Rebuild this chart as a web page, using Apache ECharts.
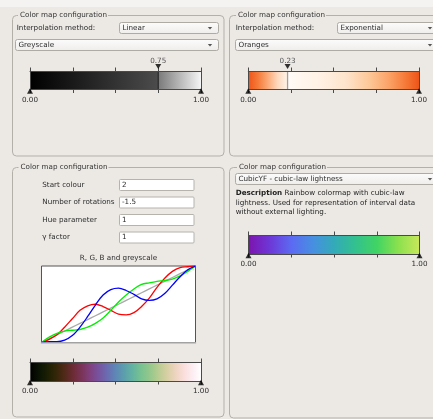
<!DOCTYPE html>
<html><head><meta charset="utf-8">
<script src="https://cdn.jsdelivr.net/npm/echarts@6/dist/echarts.min.js"></script>
<style>html,body{margin:0;padding:0;background:#ece9e5;} #c{width:433px;height:419px;}</style>
</head><body><div id="c"></div><script>
// ---------------- data ----------------
const barTicks = [0, 0.25, 0.5, 0.75, 1];
const endValues = [0, 1];
const greyControl = [0.75];
const orangeControl = [0.23];
const tValues     = [0.00,0.05,0.10,0.15,0.20,0.25,0.30,0.35,0.40,0.45,0.50,0.55,0.60,0.65,0.70,0.75,0.80,0.85,0.90,0.95,1.00];
const redValues   = [0.00,0.04,0.10,0.20,0.31,0.42,0.48,0.50,0.47,0.42,0.37,0.36,0.39,0.47,0.58,0.72,0.84,0.93,0.98,0.99,1.00];
const greenValues = [0.00,0.07,0.12,0.15,0.16,0.17,0.20,0.25,0.32,0.42,0.53,0.62,0.70,0.76,0.78,0.80,0.81,0.83,0.87,0.93,1.00];
const blueValues  = [0.00,0.01,0.01,0.03,0.09,0.20,0.34,0.49,0.62,0.69,0.71,0.68,0.63,0.57,0.55,0.57,0.64,0.75,0.86,0.95,1.00];
const greyValues  = [0.00,0.05,0.10,0.15,0.20,0.25,0.30,0.35,0.40,0.45,0.50,0.55,0.60,0.65,0.70,0.75,0.80,0.85,0.90,0.95,1.00];
const greyscaleRanges = [[0, 0.75], [0.75, 1]];
const greyscaleStops = [[[0,'#000000'],[1,'#4c4c4c']], [[0,'#7a7a7a'],[1,'#f5f5f5']]];
const orangeRanges = [[0, 0.23], [0.23, 1]];
const orangeStops = [
  [[0,'#ee5418'],[0.25,'#f57b3a'],[0.5,'#fbaa78'],[0.75,'#fed8be'],[1,'#fff3e8']],
  [[0,'#fffbf7'],[0.25,'#fff1e4'],[0.45,'#fee3ca'],[0.62,'#fdc898'],[0.78,'#fba064'],[0.9,'#f57938'],[1,'#ee5418']]
];
const cubicRanges = [[0, 1]];
const cubicStops = [[[0,'#7c14ae'],[0.12,'#6e36d6'],[0.25,'#5c6af2'],[0.38,'#4690e0'],[0.5,'#33aab8'],[0.62,'#33c090'],[0.75,'#40d464'],[0.87,'#88e04e'],[1,'#c8e85a']]];
const fieldLabels = ['Start colour', 'Number of rotations', 'Hue parameter', 'γ factor'];
const fieldValues = ['2', '-1.5', '1', '1'];

// ---------------- build ----------------
const FONT = 'DejaVu Sans';
const FS = 7.2;
const TXT = '#2c2c2c';
const grids = [], xAxes = [], yAxes = [], series = [];

function addColorbar(rect, ranges, stops, controls, dividerColor) {
  const g = grids.length;
  grids.push({left: rect[0], top: rect[1], width: rect[2], height: rect[3]});
  const line = {show: true, onZero: false, lineStyle: {color: '#4a4a4a', width: 1}};
  const tick = {show: true, inside: false, length: 3.5, lineStyle: {color: '#4a4a4a'}};
  const xb = xAxes.length;
  xAxes.push({gridIndex: g, type: 'value', min: barTicks[0], max: barTicks[barTicks.length-1], interval: barTicks[1]-barTicks[0],
    position: 'bottom', z: 5, axisLine: line, axisTick: tick, splitLine: {show: false},
    axisLabel: {show: true, margin: 7, fontSize: FS, fontFamily: FONT, color: TXT,
      formatter: v => endValues.includes(v) ? v.toFixed(2) : ''}});
  xAxes.push({gridIndex: g, type: 'value', min: barTicks[0], max: barTicks[barTicks.length-1], interval: barTicks[1]-barTicks[0],
    position: 'top', z: 5, axisLine: line, axisTick: tick, splitLine: {show: false}, axisLabel: {show: false}});
  const yl = yAxes.length;
  yAxes.push({gridIndex: g, type: 'value', min: 0, max: 1, position: 'left', z: 5, axisLine: line,
    axisTick: {show: false}, axisLabel: {show: false}, splitLine: {show: false}});
  yAxes.push({gridIndex: g, type: 'value', min: 0, max: 1, position: 'right', z: 5, axisLine: line,
    axisTick: {show: false}, axisLabel: {show: false}, splitLine: {show: false}});
  series.push({type: 'custom', xAxisIndex: xb, yAxisIndex: yl, z: 1, silent: true, animation: false,
    data: ranges.map((r, i) => [r[0], r[1], i]),
    renderItem: (params, api) => {
      const s = stops[api.value(2)];
      const p0 = api.coord([api.value(0), 1]);
      const p1 = api.coord([api.value(1), 0]);
      return {type: 'rect', shape: {x: p0[0], y: p0[1], width: p1[0]-p0[0], height: p1[1]-p0[1]},
        style: {fill: new echarts.graphic.LinearGradient(0, 0, 1, 0, s.map(([o, c]) => ({offset: o, color: c})))}};
    }});
  if (controls.length) {
    series.push({type: 'custom', xAxisIndex: xb, yAxisIndex: yl, z: 3, silent: true, animation: false,
      data: controls.map(v => [v, 0]),
      renderItem: (params, api) => {
        const a = api.coord([api.value(0), 0]), b = api.coord([api.value(0), 1]);
        return {type: 'line', shape: {x1: a[0], y1: a[1], x2: b[0], y2: b[1]}, style: {stroke: dividerColor, lineWidth: 1.3}};
      }});
    series.push({type: 'scatter', xAxisIndex: xb, yAxisIndex: yl, z: 10, silent: true, animation: false,
      data: controls.map(v => [v, 1]), symbol: 'triangle', symbolSize: [6, 5], symbolRotate: 180,
      symbolOffset: [0, -4.4], itemStyle: {color: '#000'}});
    series.push({type: 'scatter', xAxisIndex: xb, yAxisIndex: yl, z: 10, silent: true, animation: false,
      data: controls.map(v => [v, 1]), symbol: 'circle', symbolSize: 1, itemStyle: {color: 'rgba(0,0,0,0)'},
      label: {show: true, position: 'top', distance: 6, fontSize: FS, fontFamily: FONT, color: TXT,
        formatter: p => p.value[0].toFixed(2)}});
  }
  series.push({type: 'scatter', xAxisIndex: xb, yAxisIndex: yl, z: 10, silent: true, animation: false,
    data: endValues.map(v => [v, 0]), symbol: 'triangle', symbolSize: [6, 5.5],
    symbolOffset: [0, 1.5], itemStyle: {color: '#000'}});
}

addColorbar([30, 71, 171, 18.5], greyscaleRanges, greyscaleStops, greyControl, '#2a2a2a');
addColorbar([248.3, 71, 170.7, 18.5], orangeRanges, orangeStops, orangeControl, '#a0a0a0');

// R,G,B plot
{
  const g = grids.length;
  grids.push({left: 41.5, top: 266, width: 154, height: 76.5, show: true, backgroundColor: '#ffffff', borderColor: '#555555', borderWidth: 1});
  const xi = xAxes.length, yi = yAxes.length;
  xAxes.push({gridIndex: g, type: 'value', min: 0, max: 1, z: 6,
    axisLine: {show: true, onZero: false, lineStyle: {color: '#bcbcbc', width: 1.6}},
    axisTick: {show: false}, axisLabel: {show: false}, splitLine: {show: false}});
  yAxes.push({gridIndex: g, type: 'value', min: 0, max: 1, show: false});
  const mk = (vals, color) => ({type: 'line', xAxisIndex: xi, yAxisIndex: yi, silent: true, animation: false,
    smooth: 0.35, showSymbol: false, clip: true, data: tValues.map((t, i) => [t, vals[i]]),
    lineStyle: {color, width: 1.3}});
  series.push(mk(greyValues, '#a9a9a9'), mk(redValues, '#ff0000'), mk(greenValues, '#00ee00'), mk(blueValues, '#0000ff'));
}

const helixStops = [tValues.map((t, i) => [t,
  'rgb(' + Math.round(redValues[i]*255) + ',' + Math.round(greenValues[i]*255) + ',' + Math.round(blueValues[i]*255) + ')'])];
addColorbar([30, 362, 171, 19], [[0, 1]], helixStops, [], '#000');
addColorbar([248.5, 235, 171, 19], cubicRanges, cubicStops, [], '#000');

// ---------------- widgets ----------------
const BG = '#ece9e5';
const FRAME = '#b3afa9';
const gfx = [];
gfx.push({type: 'rect', shape: {x: 0, y: 0, width: 433, height: 7}, style: {fill: '#f4f3f1'}, z: -10});
function frame(x, y, w, h, tx) {
  gfx.push({type: 'rect', shape: {x, y, width: w, height: h, r: 4}, style: {fill: 'none', stroke: FRAME, lineWidth: 1}, z: -5});
  gfx.push({type: 'rect', shape: {x: tx - 2, y: y - 5, width: 90, height: 10}, style: {fill: BG}, z: -4});
  gfx.push({type: 'text', x: tx, y: y - 0.3, z: -3, style: {text: 'Color map configuration', fontSize: FS, fontFamily: FONT, fill: '#333', align: 'left', verticalAlign: 'middle'}});
}
frame(12.5, 15.5, 211.5, 140.5, 20);
frame(229.5, 15.5, 215, 140.5, 238);
frame(12.5, 167.5, 211.5, 249.5, 20.5);
frame(229.5, 167.5, 215, 250.5, 239);

function label(text, x, y, extra) {
  gfx.push({type: 'text', x, y, style: Object.assign({text, fontSize: FS, fontFamily: FONT, fill: TXT, align: 'left', verticalAlign: 'middle'}, extra || {})});
}
function combo(x, y, w, text) {
  gfx.push({type: 'rect', shape: {x, y, width: w, height: 11, r: 2},
    style: {fill: new echarts.graphic.LinearGradient(0, 0, 0, 1, [{offset: 0, color: '#fcfcfc'}, {offset: 1, color: '#efedeb'}]), stroke: '#aeaaa4', lineWidth: 1}});
  label(text, x + 3, y + 5.6);
  const ax = x + w - 8.5, ay = y + 5.5;
  gfx.push({type: 'polygon', shape: {points: [[ax - 2.2, ay - 1.1], [ax + 2.2, ay - 1.1], [ax, ay + 1.4]]}, style: {fill: '#555'}});
}
function field(x, y, w, text) {
  gfx.push({type: 'rect', shape: {x, y, width: w, height: 11, r: 1}, style: {fill: '#ffffff', stroke: '#b6b2ac', lineWidth: 1}});
  label(text, x + 2.5, y + 5.6);
}
label('Interpolation method:', 16.7, 27.8);
combo(119.5, 22.5, 99, 'Linear');
combo(15.5, 39.5, 203, 'Greyscale');
label('Interpolation method:', 235.7, 27.8);
combo(337.5, 22.5, 101, 'Exponential');
combo(235.5, 39.5, 203, 'Oranges');
combo(235.5, 173.5, 203, 'CubicYF - cubic-law lightness');

const fieldY = [179.5, 197, 214.5, 232];
fieldLabels.forEach((t, i) => { label(t, 42.3, fieldY[i] + 5.4); field(119.5, fieldY[i], 74.5, fieldValues[i]); });
label('R, G, B and greyscale', 118.5, 258.3, {align: 'center'});

label('{b|Description} Rainbow colormap with cubic-law', 235.7, 193.3,
  {fill: '#1e1e1e', rich: {b: {fontWeight: 'bold', fontSize: FS, fontFamily: FONT, fill: '#1e1e1e'}}});
label('lightness. Used for representation of interval data', 235.7, 203, {fill: '#1e1e1e'});
label('without external lighting.', 235.7, 212.6, {fill: '#1e1e1e'});

const chart = echarts.init(document.getElementById('c'), null, {renderer: 'canvas'});
chart.setOption({
  animation: false,
  backgroundColor: BG,
  textStyle: {fontFamily: FONT},
  grid: grids, xAxis: xAxes, yAxis: yAxes, series,
  graphic: {elements: gfx}
});
</script></body></html>
